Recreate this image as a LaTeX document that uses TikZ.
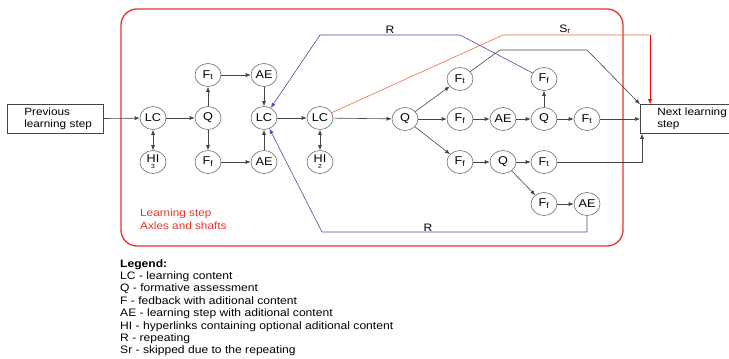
\documentclass[tikz,border=0pt]{standalone}
\usepackage{fontspec}
\setmainfont{Liberation Sans}[FakeStretch=1.12]
\usetikzlibrary{arrows.meta,shapes.geometric}
\definecolor{frame}{HTML}{E8322A}
\definecolor{conn}{HTML}{454545}
\definecolor{blu}{HTML}{4A4AA8}
\definecolor{skip}{HTML}{F26A4F}
\tikzset{
  st/.style={ellipse,draw=conn!80,line width=0.6pt,minimum width=26pt,minimum height=23pt,inner sep=0pt,font=\fontsize{11.3}{12}\selectfont},
  arr/.style={draw=conn,line width=0.6pt,-{Latex[length=5pt,width=4pt]}},
  darr/.style={draw=conn,line width=0.6pt,{Latex[length=5pt,width=4pt]}-{Latex[length=5pt,width=4pt]}},
  rep/.style={draw=blu,line width=0.6pt,-{Latex[length=5pt,width=4pt]}},
  boxst/.style={draw=conn,line width=0.6pt,align=left,font=\fontsize{10.5}{12.5}\selectfont},
  txt/.style={font=\fontsize{10.8}{12.4}\selectfont,inner sep=0pt}
}
\newcommand{\Ft}{F\textsubscript{t}}
\newcommand{\Ff}{F\textsubscript{f}}
\newcommand{\HIn}[1]{\shortstack{HI\\[-1pt]{\fontsize{6}{6}\selectfont #1}}}
\begin{document}
\begin{tikzpicture}[x=1pt,y=-1pt]
\useasboundingbox (0,0) rectangle (729,359);
% frame
\draw[frame,line width=1.3pt,rounded corners=16pt] (121,9) rectangle (623,246);
\node[txt,text=frame,anchor=north west,align=left,font=\fontsize{10.5}{13}\selectfont] (lbl) at (140,209) {Learning step\\Axles and shafts};
% boxes
\node[boxst,anchor=west,minimum height=28pt,text width=80pt,inner xsep=8pt] (prev) at (7,119) {\hspace*{9pt}Previous\\\hspace*{9pt}learning step};
\node[boxst,anchor=west,minimum height=26pt,text width=95pt,inner xsep=17pt] (next) at (640,119) {Next learning\\step};
% nodes
\node[st] (lc1) at (153,118) {LC};
\node[st] (hi3) at (153,162) {\HIn{3}};
\node[st] (q1) at (208,118) {Q};
\node[st] (ft1) at (208,75) {\Ft};
\node[st] (ff1) at (208,162) {\Ff};
\node[st] (ae1) at (264,75) {AE};
\node[st] (ae2) at (264,162) {AE};
\node[st] (lc2) at (264,118) {LC};
\node[st] (lc3) at (320,118) {LC};
\node[st] (hi2) at (320,162) {\HIn{2}};
\node[st] (q2) at (405,119) {Q};
\node[st] (ft2) at (460,79) {\Ft};
\node[st] (ffu) at (544,79) {\Ff};
\node[st] (ffm) at (460,119) {\Ff};
\node[st] (aem) at (503,119) {AE};
\node[st] (qm) at (544,119) {Q};
\node[st] (ftm) at (587,119) {\Ft};
\node[st] (ffb) at (460,162) {\Ff};
\node[st] (qb) at (503,162) {Q};
\node[st] (ftb) at (544,162) {\Ft};
\node[st] (ffl) at (544,204) {\Ff};
\node[st] (ael) at (587,204) {AE};
% connectors
\draw[arr] (prev) -- (lc1);
\draw[darr] (lc1) -- (hi3);
\draw[arr] (lc1) -- (q1);
\draw[arr] (q1) -- (ft1);
\draw[arr] (q1) -- (ff1);
\draw[arr] (ft1) -- (ae1);
\draw[arr] (ff1) -- (ae2);
\draw[arr] (ae1) -- (lc2);
\draw[arr] (ae2) -- (lc2);
\draw[arr] (lc2) -- (lc3);
\draw[darr] (lc3) -- (hi2);
\draw[arr] (lc3) -- (q2);
\draw[arr] (q2) -- (ft2);
\draw[arr] (q2) -- (ffm);
\draw[arr] (q2) -- (ffb);
\draw[arr] (ffm) -- (aem);
\draw[arr] (aem) -- (qm);
\draw[arr] (qm) -- (ftm);
\draw[arr] (qm) -- (ffu);
\draw[arr] (ftm) -- (ftm -| next.west);
\draw[arr] (ffb) -- (qb);
\draw[arr] (qb) -- (ftb);
\draw[arr] (qb) -- (ffl);
\draw[arr] (ffl) -- (ael);
\coordinate (nb) at ([xshift=2pt]next.south west);
\draw[arr] (ftb) -| (nb);
\coordinate (g1) at (500,50);
\coordinate (g2) at (587,50);
\draw[arr] (ft2) -- (g1) -- (g2) -- (next.north west);
% skipped
\coordinate (s1) at (503,35);
\coordinate (s2) at (650,35);
\coordinate (s3) at ([xshift=10pt]next.north west);
\draw[skip,line width=0.6pt] (lc3) -- (s1) -- (s2);
\draw[red,line width=0.6pt,-{Latex[length=5pt,width=4pt]}] (s2) -- (s3);
\node[txt,anchor=south] (srl) at (565,34) {S\textsubscript{r}};
% repeating
\coordinate (b1) at (460,35);
\coordinate (b2) at (320,35);
\draw[rep] (ffu) -- (b1) -- (b2) -- (lc2);
\node[txt,anchor=south] (r1) at (390,34) {R};
\coordinate (c1) at (587,232);
\coordinate (c2) at (322,232);
\draw[rep] (ael) -- (c1) -- (c2) -- (lc2);
\node[txt,anchor=south] (r2) at (428,232) {R};
% legend
\node[txt,anchor=north west,align=left] (leg) at (120,259) {\textbf{Legend:}\\
LC - learning content\\
Q - formative assessment\\
F - fedback with aditional content\\
AE - learning step with aditional content\\
HI - hyperlinks containing optional aditional content\\
R - repeating\\
Sr - skipped due to the repeating};
\end{tikzpicture}
\end{document}
